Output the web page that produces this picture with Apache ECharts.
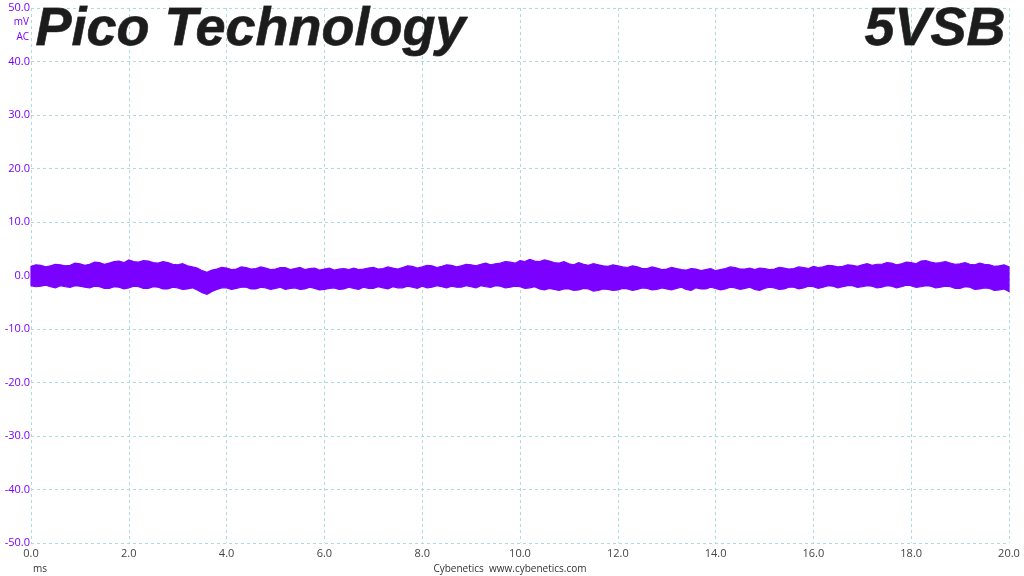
<!DOCTYPE html>
<html>
<head>
<meta charset="utf-8">
<script src="https://cdn.jsdelivr.net/npm/echarts@6/dist/echarts.min.js"></script>
<style>html,body{margin:0;padding:0;background:#fff}#c{width:1024px;height:576px}</style>
</head>
<body>
<div id="c"></div>
<script>
// time in ms, step 0.1
const timeStart = 0, timeStep = 0.1;
// upper envelope of ripple (mV), t = 0.0 .. 20.0
const upperMv = [
 1.7,2.0,1.9,1.6,1.8,2.1,2.0,1.8,1.9,2.3,
 2.2,1.9,2.1,2.5,2.4,2.1,2.3,2.6,2.7,2.4,
 2.9,2.6,2.5,2.8,2.7,2.4,2.3,2.6,2.4,2.1,
 2.0,2.2,1.8,1.6,1.4,0.9,0.6,1.0,1.2,1.5,
 1.4,1.1,1.2,1.6,1.5,1.2,1.3,1.6,1.4,1.1,
 1.2,1.5,1.5,1.1,1.3,1.5,1.1,1.3,1.4,1.0,
 1.2,1.4,1.0,1.2,1.3,1.1,1.4,1.1,1.2,1.4,
 1.5,1.2,1.3,1.6,1.4,1.2,1.5,1.8,1.7,1.4,
 1.6,1.9,1.8,1.5,1.7,2.0,1.9,1.6,1.8,2.1,
 2.0,1.8,2.1,2.3,2.0,2.2,2.3,2.6,2.5,2.3,
 2.8,2.6,3.0,2.7,2.6,2.9,2.7,2.4,2.3,2.6,
 2.2,2.0,2.4,2.1,1.9,2.2,2.0,1.8,1.7,2.0,
 1.8,1.6,1.5,1.8,1.6,1.3,1.3,1.6,1.4,1.1,
 1.2,1.5,1.3,1.1,1.0,1.3,1.2,0.9,1.1,1.3,
 0.9,1.1,1.3,1.6,1.5,1.2,1.2,1.4,1.1,1.4,
 1.3,1.1,1.2,1.5,1.4,1.2,1.3,1.6,1.5,1.3,
 1.7,1.5,1.6,1.9,1.8,1.6,1.7,2.0,1.9,1.7,
 2.0,2.2,1.9,2.1,2.1,2.4,2.3,2.0,2.2,2.5,
 2.4,2.2,2.7,2.8,2.5,2.3,2.4,2.6,2.3,2.1,
 2.2,2.4,2.1,2.0,2.3,2.1,2.0,1.7,1.8,2.0,
 1.6
];
// lower envelope of ripple (mV), t = 0.0 .. 20.0
const lowerMv = [
 -1.9,-2.1,-2.0,-1.8,-2.1,-2.3,-1.9,-2.1,-2.2,-1.9,
 -2.0,-2.2,-2.3,-2.0,-2.1,-2.4,-2.4,-2.1,-2.2,-2.5,
 -2.3,-2.0,-2.1,-2.4,-2.4,-2.1,-2.2,-2.5,-2.5,-2.2,
 -2.3,-2.6,-2.5,-2.3,-2.7,-3.2,-3.5,-3.0,-2.6,-2.3,
 -2.3,-2.6,-2.4,-2.2,-2.2,-2.5,-2.5,-2.2,-2.3,-2.6,
 -2.4,-2.2,-2.6,-2.4,-2.3,-2.6,-2.5,-2.2,-2.4,-2.7,
 -2.6,-2.4,-2.3,-2.6,-2.5,-2.2,-2.4,-2.6,-2.2,-2.4,
 -2.4,-2.1,-2.3,-2.5,-2.1,-2.3,-2.3,-2.0,-2.2,-2.4,
 -2.0,-2.3,-2.2,-1.9,-2.1,-2.3,-2.0,-2.2,-2.2,-1.9,
 -2.1,-2.3,-1.9,-2.1,-2.2,-1.9,-2.0,-2.3,-2.2,-2.0,
 -2.1,-2.4,-2.3,-2.1,-2.5,-2.7,-2.4,-2.6,-2.8,-2.5,
 -2.5,-2.8,-2.7,-2.4,-2.5,-2.9,-2.8,-2.5,-2.6,-2.8,
 -2.7,-2.4,-2.5,-2.8,-2.6,-2.3,-2.4,-2.7,-2.6,-2.3,
 -2.5,-2.7,-2.4,-2.2,-2.6,-2.8,-2.3,-2.5,-2.5,-2.2,
 -2.4,-2.7,-2.5,-2.2,-2.3,-2.6,-2.4,-2.2,-2.6,-2.8,
 -2.4,-2.2,-2.3,-2.6,-2.5,-2.2,-2.2,-2.5,-2.3,-2.0,
 -2.1,-2.4,-2.2,-1.9,-2.0,-2.3,-2.1,-1.9,-1.9,-2.2,
 -2.1,-1.9,-2.0,-2.3,-2.2,-1.9,-2.0,-2.3,-2.1,-1.8,
 -1.9,-2.2,-2.1,-1.9,-2.0,-2.3,-2.2,-2.0,-2.1,-2.4,
 -2.4,-2.1,-2.2,-2.6,-2.5,-2.3,-2.4,-2.8,-2.7,-2.5,
 -3.0
];
const xTicks = [0,2,4,6,8,10,12,14,16,18,20];
const yTicks = [-50,-40,-30,-20,-10,0,10,20,30,40,50];
const titleLeft = 'Pico Technology';
const titleRight = '5VSB';
const unitLabels = ['mV','AC'];
const xUnit = 'ms';
const credit = 'Cybenetics  www.cybenetics.com';

const purple = '#7a00ff';
const tOf = i => +(timeStart + i*timeStep).toFixed(2);
const bandRows = upperMv.map((v,i) => [tOf(i), v, lowerMv[i]]);

const chart = echarts.init(document.getElementById('c'), null, {renderer:'canvas'});
const titleStyle = () => ({
  fill: '#1c1c1c',
  font: 'italic bold 54px "Liberation Sans", Arial, sans-serif',
  stroke: '#555', lineWidth: 0.8,
  shadowColor: 'rgba(0,0,0,0.45)', shadowBlur: 3, shadowOffsetX: 2, shadowOffsetY: 2
});
const labelFont = '"Open Sans", "DejaVu Sans", sans-serif';
chart.setOption({
  animation: false,
  backgroundColor: '#fff',
  grid: {left: 31, right: 15, top: 8, bottom: 33, containLabel: false},
  xAxis: {
    type: 'value', min: xTicks[0], max: xTicks[xTicks.length-1], interval: 2,
    axisLine: {show:false}, axisTick: {show:false},
    axisLabel: {color:'#444', fontSize: 11, fontFamily: labelFont, margin: 5,
      formatter: v => v.toFixed(1)},
    splitLine: {show:true, lineStyle:{color:'#acdcdc', type:[3,3], width:1}}
  },
  yAxis: {
    type: 'value', min: yTicks[0], max: yTicks[yTicks.length-1], interval: 10,
    axisLine: {show:false}, axisTick: {show:false},
    axisLabel: {color: purple, fontSize: 11, fontFamily: labelFont, margin: 1,
      formatter: v => v.toFixed(1)},
    splitLine: {show:true, lineStyle:{color:'#acdcdc', type:[3,3], width:1}}
  },
  series: [{
    type: 'custom',
    data: bandRows,
    encode: {x: 0, y: [1, 2]},
    renderItem: function (params, api) {
      if (params.dataIndex !== 0) return null;
      const pts = [];
      for (let i = 0; i < bandRows.length; i++) pts.push(api.coord([bandRows[i][0], bandRows[i][1]]));
      for (let i = bandRows.length - 1; i >= 0; i--) pts.push(api.coord([bandRows[i][0], bandRows[i][2]]));
      return {
        type: 'polygon',
        shape: {points: pts},
        style: {fill: purple, stroke: purple, lineWidth: 1.2, lineJoin: 'miter'}
      };
    }
  }],
  graphic: [
    {type:'text', left: 35, top: 3, z: 100, style: Object.assign({text: titleLeft}, titleStyle())},
    {type:'text', right: 18, top: 3, z: 100, style: Object.assign({text: titleRight}, titleStyle())},
    {type:'text', x: 29, y: 22, style:{text: unitLabels[0], fill: purple, font:'10px ' + labelFont, align:'right', verticalAlign:'middle'}},
    {type:'text', x: 29, y: 37, style:{text: unitLabels[1], fill: purple, font:'10px ' + labelFont, align:'right', verticalAlign:'middle'}},
    {type:'text', x: 33, y: 569, style:{text: xUnit, fill:'#333', font:'10px ' + labelFont, verticalAlign:'middle'}},
    {type:'text', x: 510, y: 569, style:{text: credit, fill:'#333', font:'10px ' + labelFont, align:'center', verticalAlign:'middle'}}
  ]
});
</script>
</body>
</html>
